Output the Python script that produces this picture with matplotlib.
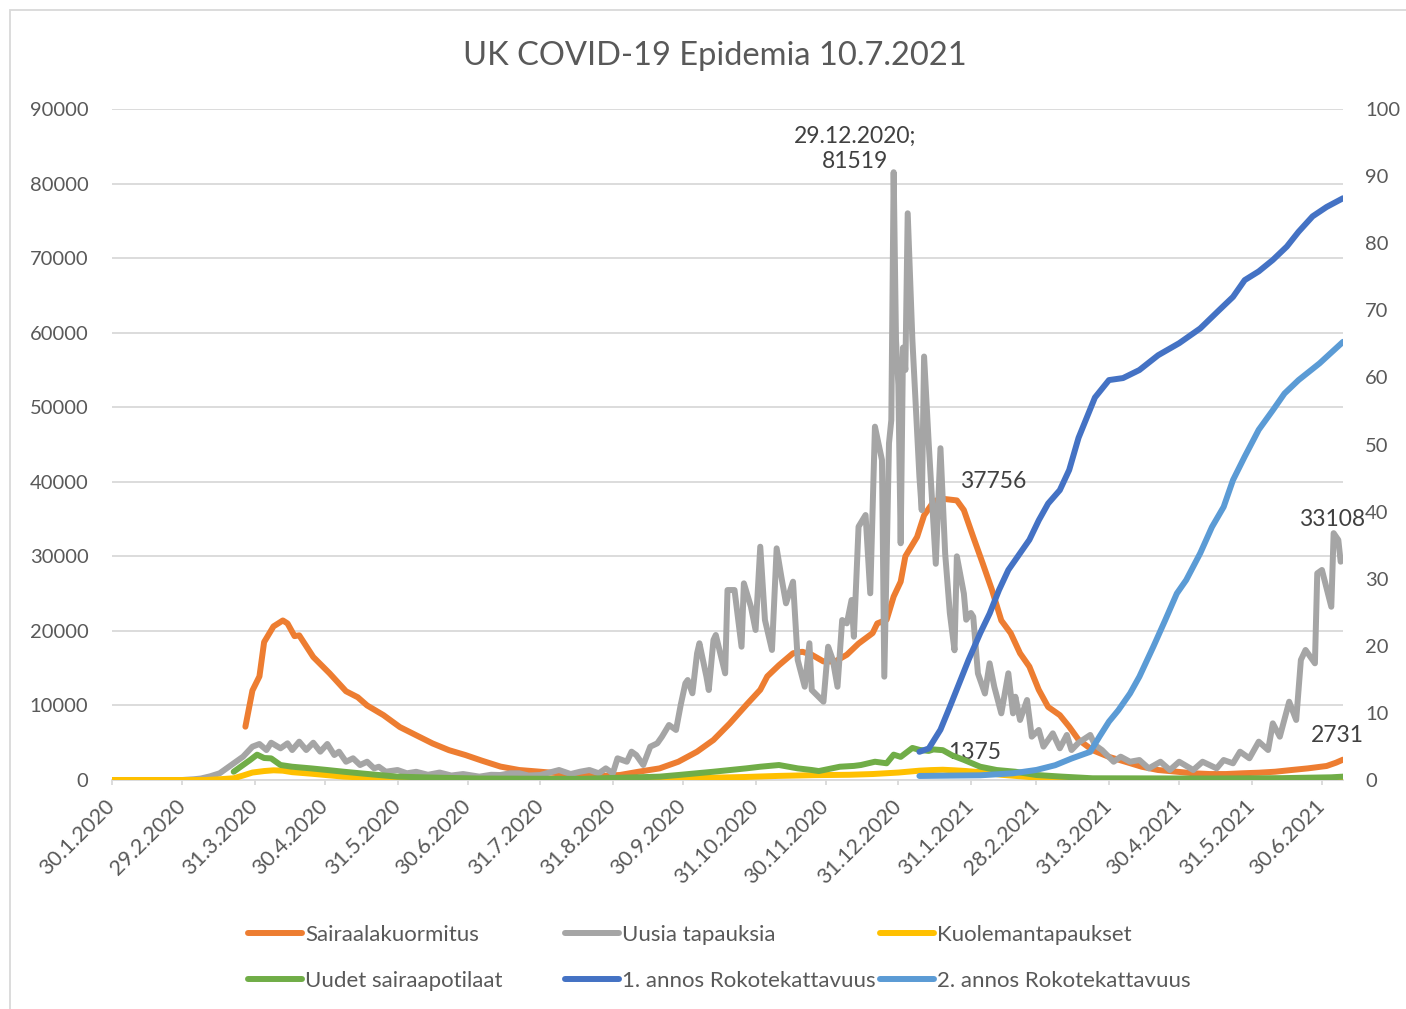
import matplotlib
matplotlib.use('Agg')
import matplotlib.pyplot as plt
from matplotlib.patches import Rectangle
import pandas as pd
import numpy as np

plt.rcParams['font.family'] = ['Lato', 'DejaVu Sans']

START = pd.Timestamp('2020-01-30')
LAST_DAY = 526  # 9.7.2021

# x values are days counted from 30.1.2020
hosp_days = [57, 60, 63, 65, 69, 73, 75, 78, 80, 86, 93, 100, 105, 109, 116, 123, 130, 137, 144, 151,
             158, 166, 174, 183, 191, 200, 208, 217, 225, 234, 242, 250, 257, 264, 271, 277, 280, 285, 291, 295,
             299, 304, 309, 314, 319, 325, 327, 331, 334, 337, 339, 344, 347, 351, 354, 361, 364, 368, 372, 376,
             380, 384, 388, 392, 396, 400, 405, 409, 413, 419, 426, 433, 440, 447, 455, 462, 469, 476, 483, 490,
             497, 504, 511, 519, 523, 526]
hosp_vals = [7150, 12000, 13900, 18500, 20600, 21400, 21000, 19300, 19400, 16500, 14300, 11900, 11100, 10000, 8700, 7100, 6000, 4900, 4000, 3350,
             2600, 1800, 1340, 1110, 900, 670, 540, 670, 1110, 1560, 2450, 3800, 5370, 7600, 10060, 12100, 13900, 15400, 17000, 17200,
             16800, 15900, 15900, 16800, 18300, 19700, 21000, 21500, 24600, 26600, 30000, 32600, 35500, 37300, 37756, 37500, 36200, 32600, 29100, 25500,
             21400, 19700, 17000, 15200, 12100, 9800, 8700, 7150, 5400, 4000, 3100, 2450, 1780, 1340, 1110, 900, 800, 800, 900, 980,
             1110, 1340, 1560, 1880, 2320, 2731]

cases_days = [0, 30, 35, 38, 42, 46, 52, 56, 60, 63, 66, 68, 72, 75, 77, 80, 83, 86, 89, 92,
              95, 97, 100, 103, 106, 109, 112, 114, 117, 122, 126, 130, 135, 140, 145, 150, 157, 162, 166, 170,
              174, 178, 183, 187, 191, 196, 200, 204, 208, 211, 214, 216, 220, 222, 224, 227, 230, 233, 235, 238,
              241, 243, 245, 246, 248, 250, 251, 254, 255, 257, 258, 262, 263, 266, 269, 270, 273, 275, 277, 279,
              282, 284, 286, 288, 291, 293, 296, 298, 299, 304, 306, 308, 310, 312, 314, 316, 317, 319, 322, 324,
              326, 329, 330, 332, 333, 334, 335, 336, 337, 338, 339, 340, 342, 345, 346, 347, 349, 352, 354, 356,
              358, 360, 361, 364, 365, 367, 368, 370, 373, 375, 377, 380, 383, 385, 386, 388, 391, 393, 396, 398,
              402, 405, 408, 410, 413, 418, 420, 423, 428, 431, 435, 439, 443, 448, 452, 456, 462, 466, 472, 475,
              479, 482, 486, 490, 494, 496, 499, 503, 506, 508, 510, 514, 515, 517, 521, 522, 524, 525]
cases_vals = [0, 0, 100, 200, 500, 900, 2240, 3130, 4470, 4830, 4020, 5000, 4250, 4920, 4020, 5140, 4020, 5000, 3800, 4830,
              3350, 3800, 2450, 2910, 2010, 2450, 1560, 1780, 1110, 1340, 900, 1100, 700, 1000, 600, 800, 450, 700, 670, 900,
              900, 600, 670, 1000, 1340, 800, 1110, 1340, 900, 1560, 900, 2910, 2450, 3800, 3350, 2010, 4470, 4920, 5810, 7380,
              6710, 10060, 12970, 13410, 11630, 16990, 18340, 13860, 12070, 18780, 19450, 14310, 25480, 25480, 17880, 26380, 23240, 20120, 31290, 21460,
              17440, 31070, 27270, 23700, 26600, 16100, 12510, 18340, 12070, 10500, 17880, 16100, 12510, 21460, 21010, 24140, 19220, 33980, 35540, 25040,
              47390, 42920, 13860, 45160, 48290, 81519, 59000, 53000, 31750, 58000, 55000, 76010, 59020, 40700, 36200, 56800, 45000, 29000, 44500, 30400,
              22400, 17400, 30000, 25000, 21500, 22400, 21900, 14300, 11600, 15650, 12500, 8940, 14310, 8940, 11170, 8050, 10730, 5810, 6710, 4470,
              6260, 4250, 6040, 4020, 5000, 6040, 4690, 4020, 2450, 3130, 2450, 2680, 1560, 2450, 1340, 2450, 1340, 2450, 1560, 2680,
              2240, 3800, 2910, 5140, 4020, 7600, 5810, 10500, 8050, 16100, 17440, 15650, 27720, 28170, 23240, 33108, 32190, 29280]

deaths_days = [0, 40, 46, 52, 56, 60, 65, 69, 73, 77, 85, 92, 99, 106, 116, 130, 150, 180, 230, 240,
               255, 270, 285, 300, 315, 325, 336, 345, 350, 355, 360, 365, 373, 380, 392, 400, 415, 430, 526]
deaths_vals = [0, 0, 100, 230, 600, 1000, 1200, 1300, 1250, 1050, 850, 650, 450, 360, 220, 150, 100, 50, 50, 150,
               300, 400, 550, 650, 700, 800, 1000, 1250, 1330, 1375, 1300, 1200, 1000, 700, 400, 200, 80, 30, 20]

adm_days = [52, 56, 59, 62, 65, 68, 72, 77, 85, 92, 99, 106, 114, 122, 140, 157, 200, 234, 242, 257,
            271, 277, 285, 293, 299, 302, 311, 317, 320, 326, 331, 334, 337, 342, 345, 349, 351, 355, 359, 364,
            371, 378, 386, 395, 406, 419, 470, 500, 521, 526]
adm_vals = [1110, 2010, 2680, 3400, 2950, 2900, 2010, 1780, 1560, 1340, 1110, 900, 670, 450, 300, 200, 150, 450, 670, 1110,
            1560, 1780, 2010, 1560, 1340, 1200, 1780, 1890, 2010, 2450, 2240, 3400, 3100, 4300, 4040, 3900, 4100, 4000, 3300, 2700,
            1780, 1340, 1110, 670, 450, 230, 200, 250, 360, 450]

dose1_days = [345, 349, 354, 358, 362, 366, 371, 375, 379, 383, 388, 392, 396, 400, 405, 409, 413, 420, 426, 432,
              439, 447, 456, 465, 473, 479, 484, 490, 496, 502, 507, 513, 519, 526]
dose1_vals = [4.2, 4.7, 7.5, 10.9, 14.4, 17.9, 21.9, 24.8, 28.3, 31.3, 33.8, 35.8, 38.7, 41.2, 43.2, 46.2, 51.0, 57.0, 59.6, 59.9,
              61.1, 63.3, 65.1, 67.3, 70.0, 72.0, 74.5, 75.8, 77.5, 79.5, 81.7, 84.0, 85.4, 86.7]

dose2_days = [345, 371, 385, 395, 403, 410, 418, 422, 426, 430, 435, 439, 445, 450, 455, 459, 465, 470, 475, 479,
              484, 490, 496, 501, 507, 516, 526]
dose2_vals = [0.6, 0.7, 1.0, 1.5, 2.2, 3.2, 4.2, 6.5, 8.7, 10.4, 12.9, 15.4, 19.9, 23.8, 27.8, 29.8, 33.8, 37.7, 40.7, 44.7,
              48.2, 52.2, 55.1, 57.6, 59.6, 62.1, 65.3]

tick_labels = ['30.1.2020', '29.2.2020', '31.3.2020', '30.4.2020', '31.5.2020', '30.6.2020', '31.7.2020',
               '31.8.2020', '30.9.2020', '31.10.2020', '30.11.2020', '31.12.2020', '31.1.2021', '28.2.2021',
               '31.3.2021', '30.4.2021', '31.5.2021', '30.6.2021']

names = ['Sairaalakuormitus', 'Uusia tapauksia', 'Kuolemantapaukset',
         'Uudet sairaapotilaat', '1. annos Rokotekattavuus', '2. annos Rokotekattavuus']
colors = ['#ED7D31', '#A5A5A5', '#FFC000', '#70AD47', '#4472C4', '#5B9BD5']


def to_dates(days):
    return START + pd.to_timedelta(np.array(days), unit='D')


TXT = '#595959'
GRID = '#D9D9D9'
FS = 14.5      # value axes
FS_X = 15.5    # date axis
FS_D = 16.5    # data labels
FS_L = 16      # legend
lw = 4.3

fig = plt.figure(figsize=(14.06, 10.09), dpi=100)
fig.add_artist(Rectangle((10 / 1406, -0.01), 1.1, 1 - 10 / 1009 + 0.01, transform=fig.transFigure,
                         fill=False, edgecolor=GRID, lw=1.3))

ax = fig.add_axes([112 / 1406, 229 / 1009, 1231 / 1406, 671 / 1009])
ax2 = ax.twinx()

style = dict(lw=lw, solid_joinstyle='round', solid_capstyle='round')
l_hosp, = ax.plot(to_dates(hosp_days), hosp_vals, color=colors[0], label=names[0], zorder=3, **style)
l_cases, = ax.plot(to_dates(cases_days), cases_vals, color=colors[1], label=names[1], zorder=4, **style)
l_deaths, = ax.plot(to_dates(deaths_days), deaths_vals, color=colors[2], label=names[2], zorder=5, **style)
l_adm, = ax.plot(to_dates(adm_days), adm_vals, color=colors[3], label=names[3], zorder=6, **style)
l_d1, = ax2.plot(to_dates(dose1_days), dose1_vals, color=colors[4], label=names[4], **style)
l_d2, = ax2.plot(to_dates(dose2_days), dose2_vals, color=colors[5], label=names[5], **style)

ax.set_xlim(START, START + pd.Timedelta(days=LAST_DAY))
ax.set_ylim(0, 90000)
ax.set_yticks(range(0, 90001, 10000))
ax2.set_ylim(0, 100)
ax2.set_yticks(range(0, 101, 10))

ax.yaxis.grid(True, color=GRID, lw=1.3)
ax.set_axisbelow(True)
for s in ['top', 'left', 'right']:
    ax.spines[s].set_visible(False)
    ax2.spines[s].set_visible(False)
ax2.spines['bottom'].set_visible(False)
ax.spines['bottom'].set_color(GRID)
ax.spines['bottom'].set_linewidth(1.3)

tick_dates = pd.to_datetime(tick_labels, format='%d.%m.%Y')
ax.set_xticks(tick_dates)
ax.set_xticklabels(tick_labels, rotation=45, ha='right', va='center', rotation_mode='anchor')
ax.tick_params(axis='x', length=3.6, width=1.3, color=GRID, pad=13, labelsize=FS_X, labelcolor=TXT)
ax.tick_params(axis='y', length=0, pad=17, labelsize=FS, labelcolor=TXT)
ax2.tick_params(axis='y', length=0, pad=16, labelsize=FS, labelcolor=TXT)

fig.text(715 / 1406, 1 - 56 / 1009, 'UK COVID-19 Epidemia 10.7.2021', ha='center', va='center',
         fontsize=23.5, color=TXT)

# data labels
LBL = '#404040'
cd = to_dates(cases_days)
i = int(np.argmax(cases_vals))
d = cd[i]
ax.annotate(f'{d.day}.{d.month}.{d.year};\n{cases_vals[i]}', (cd[i], cases_vals[i]), xytext=(-39, 0),
            textcoords='offset pixels', ha='center', va='bottom', fontsize=FS_D, color=LBL, linespacing=1.25)
hd = to_dates(hosp_days)
i = int(np.argmax(hosp_vals))
ax.annotate(f'{hosp_vals[i]}', (hd[i], hosp_vals[i]), xytext=(20, 17), textcoords='offset pixels',
            ha='left', va='center', fontsize=FS_D, color=LBL)
ax.annotate(f'{hosp_vals[-1]}', (hd[-1], hosp_vals[-1]), xytext=(-6, 24), textcoords='offset pixels',
            ha='center', va='center', fontsize=FS_D, color=LBL)
dd = to_dates(deaths_days)
late = [k for k in range(len(deaths_days)) if deaths_days[k] > 300]
i = max(late, key=lambda k: deaths_vals[k])
ax.annotate(f'{deaths_vals[i]}', (dd[i], deaths_vals[i]), xytext=(5, 17), textcoords='offset pixels',
            ha='left', va='center', fontsize=FS_D, color=LBL)
late = [k for k in range(len(cases_days)) if cases_days[k] > 450]
i = max(late, key=lambda k: cases_vals[k])
ax.annotate(f'{cases_vals[i]}', (cd[i], cases_vals[i]), xytext=(-2, 14), textcoords='offset pixels',
            ha='center', va='center', fontsize=FS_D, color=LBL)

# legend: three columns, two rows
cols = [(l_hosp, l_adm), (l_cases, l_d1), (l_deaths, l_d2)]
col_x = [248, 565, 880]
for hs, x in zip(cols, col_x):
    fig.legend(hs, [h.get_label() for h in hs], loc='upper left', bbox_to_anchor=(x / 1406, 1 - 925 / 1009),
               frameon=False, borderpad=0, borderaxespad=0, handlelength=2.43, handletextpad=0.13,
               labelspacing=1.18, fontsize=FS_L, labelcolor=TXT)

fig.savefig('out.png', dpi=100, facecolor='white')
